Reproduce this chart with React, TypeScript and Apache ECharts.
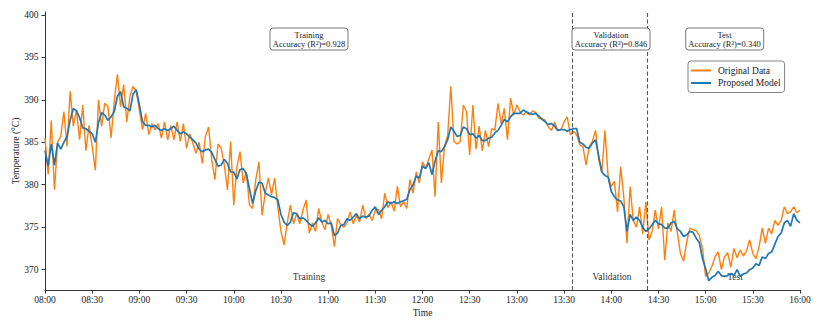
import React, { useEffect, useRef } from "react";
import * as echarts from "echarts";

// Time axis: 08:00 to 16:00, one sample every 2 minutes
const START_MINUTES = 8 * 60;
const STEP_MINUTES = 2;
const SPAN_MINUTES = 480;

// Original measured temperature (°C)
const originalData: number[] = [
  385.5, 381.2, 387.6, 379.4, 385.0, 385.7, 388.6, 384.5, 391.0, 386.9,
  388.8, 385.3, 389.4, 384.0, 387.0, 384.5, 381.7, 390.0, 386.9, 389.6,
  389.2, 385.5, 389.8, 393.0, 389.2, 391.8, 387.4, 390.4, 391.6, 391.0,
  388.8, 386.5, 388.4, 385.9, 387.2, 386.5, 387.2, 385.5, 387.4, 385.3,
  387.0, 385.3, 387.4, 385.1, 387.2, 384.3, 386.0, 384.9,
  383.7, 385.0, 382.5, 385.7, 386.8, 383.0, 380.6, 384.8, 384.3, 382.3,
  379.4, 385.1, 377.6, 382.1, 383.9, 380.2, 381.5, 377.6, 377.2, 380.6,
  382.7, 376.4, 379.0, 380.8, 378.8, 380.8, 377.4, 374.5, 372.9, 375.5,
  377.6, 375.4, 376.6, 375.4, 377.0, 378.2, 374.3, 375.5, 374.5, 377.2,
  375.6, 374.7, 376.5, 375.2, 372.7, 376.0, 375.3, 375.0,
  375.5, 376.8, 375.4, 376.4, 375.6, 377.6, 376.0, 376.5, 375.8, 377.0,
  377.1, 376.0, 379.0, 377.3, 378.0, 376.9, 379.8, 377.4, 378.0, 377.2,
  380.6, 379.0, 381.5, 380.2, 382.7, 381.9, 383.0, 384.1, 378.6, 387.4,
  380.2, 384.5, 385.8, 391.6, 385.1, 384.8, 385.1, 389.4, 388.6, 383.5,
  389.4, 384.2, 386.9, 384.0, 386.4, 384.5, 386.6, 386.4,
  389.6, 387.2, 389.0, 385.3, 390.2, 388.2, 389.4, 388.6, 388.2, 388.6,
  388.2, 388.7, 388.5, 387.8, 387.8, 387.6, 386.8, 386.4, 387.4, 386.4,
  386.5, 387.4, 388.0, 385.9, 386.3, 385.9, 384.7, 384.5, 382.3, 384.5,
  385.1, 386.4, 383.0, 381.5, 386.4, 381.0, 379.8, 380.4, 376.8, 382.1,
  378.5, 373.1, 379.8, 375.8, 375.0, 377.4, 374.2,
  378.0, 373.5, 374.5, 377.0, 374.8, 377.4, 371.1, 375.5, 374.5, 377.0,
  374.4, 371.9, 371.0, 373.3, 374.9, 374.7, 374.6, 374.0, 372.5, 369.2,
  369.6, 370.4, 371.5, 372.1, 370.0, 371.5, 372.0, 370.3, 372.5, 371.4,
  372.3, 371.6, 372.2, 373.5, 371.9, 371.3, 372.7, 374.9, 373.1, 374.9,
  374.2, 375.8, 375.2, 375.8, 377.4, 376.6, 376.8, 377.4, 376.7, 377.0,
];

// Proposed model prediction (°C)
const modelData: number[] = [
  384.0, 382.2, 384.8, 382.3, 384.9, 384.2, 385.0, 385.7, 387.6, 389.0,
  388.7, 387.9, 386.7, 386.6, 386.3, 386.0, 385.0, 387.3, 388.5, 388.2,
  387.6, 388.0, 388.6, 390.4, 391.0, 389.2, 389.0, 388.7, 390.7, 391.2,
  389.4, 387.4, 387.0, 387.0, 386.8, 387.0, 386.6, 386.4, 386.6, 386.4,
  386.6, 386.9, 386.4, 386.0, 386.2, 386.0, 385.6, 385.3,
  384.9, 384.2, 383.9, 384.1, 384.2, 383.8, 383.0, 382.2, 382.3, 383.0,
  382.5, 381.5, 381.5, 380.7, 381.8, 381.9, 381.3, 379.5, 377.8, 379.3,
  380.3, 380.2, 379.0, 378.8, 378.6, 378.5, 378.2, 376.5, 375.6, 375.2,
  375.6, 376.7, 376.6, 376.0, 376.1, 375.8, 375.4, 375.1, 375.5, 376.1,
  375.6, 375.8, 375.4, 375.5, 374.0, 374.3, 375.2, 375.3,
  376.0, 375.8, 376.2, 376.6, 376.0, 376.3, 376.2, 376.3, 377.0, 377.4,
  376.5, 377.0, 377.4, 378.0, 377.8, 378.0, 377.8, 378.0, 378.1, 378.3,
  379.4, 380.0, 381.0, 380.8, 382.2, 381.9, 382.6, 381.2, 382.8, 384.0,
  383.9, 384.5, 385.3, 386.8, 386.3, 385.7, 385.8, 386.8, 386.6, 385.9,
  386.0, 385.5, 385.8, 385.2, 385.2, 385.5, 385.6, 386.1,
  386.4, 387.0, 387.7, 387.4, 388.0, 388.4, 388.4, 388.4, 388.8, 388.6,
  388.4, 388.3, 388.4, 388.1, 387.7, 387.4, 387.1, 387.2, 386.9, 386.4,
  386.5, 386.5, 386.3, 386.5, 386.6, 386.6, 385.0, 384.8, 384.4, 384.3,
  384.9, 385.3, 383.4, 381.5, 381.1, 380.9, 379.2, 378.6, 378.2, 378.1,
  377.4, 374.5, 376.5, 375.8, 376.2, 375.8, 375.0,
  374.5, 374.8, 375.3, 375.8, 375.4, 375.3, 374.9, 374.9, 375.5, 375.7,
  374.8, 374.5, 373.9, 374.1, 374.5, 374.4, 373.7, 373.2, 371.3, 370.1,
  368.7, 369.1, 369.3, 369.8, 369.3, 369.2, 369.3, 369.5, 369.3, 370.0,
  369.2, 369.5, 369.6, 370.0, 370.2, 370.7, 370.5, 371.5, 371.3, 371.9,
  372.1, 373.0, 373.9, 374.3, 375.5, 375.8, 375.1, 376.6, 375.8, 375.5,
];

const yTicks: number[] = [370, 375, 380, 385, 390, 395, 400];
// Split boundaries, minutes after 08:00
const splitMinutes: number[] = [335, 383];
const phaseNames: string[] = ["Training", "Validation", "Test"];
const phaseAccuracy: string[] = ["0.928", "0.846", "0.340"];

const fmt = (m: number) =>
  `${String(Math.floor(m / 60)).padStart(2, "0")}:${String(m % 60).padStart(2, "0")}`;

const FONT = '"Liberation Serif", "Times New Roman", serif';

export default function App() {
  const ref = useRef<HTMLDivElement>(null);
  useEffect(() => {
    if (!ref.current) return;
    const chart = echarts.init(ref.current, undefined, { renderer: "svg" });

    const toPairs = (arr: number[]) => arr.map((v, i) => [i * STEP_MINUTES, v]);

    const boxes = [
      { cx: 309, x: 270 },
      { cx: 611, x: 572 },
      { cx: 724.5, x: 685.7 },
    ];
    const bottomLabels = [
      { x: 309, text: phaseNames[0] },
      { x: 612, text: phaseNames[1] },
      { x: 735, text: phaseNames[2] },
    ];
    const graphic: any[] = [];
    boxes.forEach((b, k) => {
      graphic.push({
        type: "rect",
        shape: { x: b.x, y: 28, width: 78, height: 22, r: 3 },
        style: { fill: "#fff", stroke: "#555", lineWidth: 0.8 },
        z: 100,
      });
      graphic.push({
        type: "text",
        x: b.cx,
        y: 39,
        style: {
          text: `${phaseNames[k]}\nAccuracy (R²)=${phaseAccuracy[k]}`,
          align: "center",
          verticalAlign: "middle",
          fontSize: 8.5,
          fontFamily: FONT,
          lineHeight: 9,
          fill: "#222",
        },
        z: 101,
      });
    });
    bottomLabels.forEach((l) => {
      graphic.push({
        type: "text",
        x: l.x,
        y: 277,
        style: {
          text: l.text,
          align: "center",
          verticalAlign: "middle",
          fontSize: 9.5,
          fontFamily: FONT,
          fill: "#333",
        },
        z: 0,
      });
    });

    chart.setOption({
      animation: false,
      backgroundColor: "#fff",
      grid: { left: 45, right: 23, top: 12, bottom: 33, containLabel: false, outerBoundsMode: "none" },
      legend: {
        orient: "vertical",
        left: 688,
        top: 61,
        padding: [4, 4, 4, 3],
        itemGap: 1.5,
        itemWidth: 20,
        itemHeight: 2,
        icon: "rect",
        borderColor: "#666",
        borderWidth: 0.8,
        borderRadius: 3,
        backgroundColor: "#fff",
        textStyle: { fontFamily: FONT, fontSize: 9.5, color: "#222", padding: [0, 0, 0, 2], lineHeight: 11 },
        data: ["Original Data", "Proposed Model"],
      },
      xAxis: {
        type: "value",
        min: 0,
        max: SPAN_MINUTES,
        interval: 30,
        name: "Time",
        nameLocation: "middle",
        nameGap: 18,
        nameMoveOverlap: false,
        nameTextStyle: { fontFamily: FONT, fontSize: 9.5, color: "#222" },
        axisLine: { lineStyle: { color: "#333", width: 1 } },
        axisTick: { show: true, length: 3.5, lineStyle: { color: "#333" } },
        axisLabel: {
          margin: 4.5,
          fontFamily: FONT,
          fontSize: 9.5,
          color: "#222",
          formatter: (v: number) => fmt(START_MINUTES + v),
        },
        splitLine: { show: false },
      },
      yAxis: {
        type: "value",
        min: 367.6,
        max: 400.35,
        name: "Temperature (°C)",
        nameLocation: "middle",
        nameGap: 24,
        nameMoveOverlap: false,
        nameTextStyle: { fontFamily: FONT, fontSize: 9.5, color: "#222" },
        axisLine: { show: true, lineStyle: { color: "#333", width: 1 } },
        axisTick: { show: true, length: 3.5, customValues: yTicks, lineStyle: { color: "#333" } },
        axisLabel: { customValues: yTicks, margin: 6.5, fontFamily: FONT, fontSize: 9.5, color: "#222" },
        splitLine: { show: false },
      },
      series: [
        {
          name: "Original Data",
          type: "line",
          data: toPairs(originalData),
          symbol: "none",
          color: "#ff7f0e",
          lineStyle: { width: 1.4, color: "#ff7f0e" },
          z: 3,
          markLine: {
            silent: true,
            symbol: "none",
            label: { show: false },
            lineStyle: { type: [4, 2.5], color: "#555", width: 1.1 },
            data: splitMinutes.map((m) => ({ xAxis: m })),
          },
        },
        {
          name: "Proposed Model",
          type: "line",
          data: toPairs(modelData),
          symbol: "none",
          color: "#1f77b4",
          lineStyle: { width: 1.7, color: "#1f77b4" },
          z: 4,
        },
      ],
      graphic,
    });
    return () => chart.dispose();
  }, []);
  return (
    <div
      ref={ref}
      style={{ position: "fixed", left: 0, top: 0, width: 823, height: 323, background: "#fff" }}
    />
  );
}
